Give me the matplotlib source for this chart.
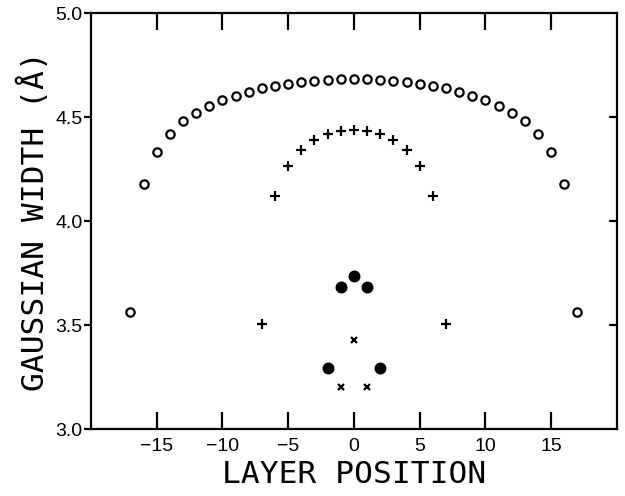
import matplotlib
matplotlib.use("Agg")
import matplotlib.pyplot as plt
import numpy as np

# open circles: layers -17..17
open_x = list(range(-17, 18))
open_half = [3.565, 4.178, 4.334, 4.422, 4.483, 4.523, 4.557, 4.584, 4.605,
             4.623, 4.640, 4.650, 4.660, 4.668, 4.674, 4.679, 4.683, 4.685]
open_y = open_half + open_half[-2::-1]

# plus signs: layers -7..7
plus_x = list(range(-7, 8))
plus_half = [3.505, 4.120, 4.268, 4.343, 4.393, 4.420, 4.435, 4.440]
plus_y = plus_half + plus_half[-2::-1]

# filled circles
fill_x = [-2, -1, 0, 1, 2]
fill_y = [3.295, 3.682, 3.737, 3.682, 3.295]

# crosses
cross_x = [-1, 0, 1]
cross_y = [3.204, 3.429, 3.204]

fig = plt.figure(figsize=(6.25, 4.96), dpi=100)
ax = fig.add_axes([0.1456, 0.1345, 0.8414, 0.8385])

ax.plot(open_x, open_y, 'o', ms=6.0, mfc='white', mec='black', mew=1.6, ls='none')
ax.plot(plus_x, plus_y, '+', ms=6.5, color='black', mew=1.6, ls='none')
ax.plot(fill_x, fill_y, 'o', ms=7.6, color='black', ls='none')
ax.plot(cross_x, cross_y, 'x', ms=4.5, color='black', mew=1.6, ls='none')

ax.set_xlim(-20, 20)
ax.set_ylim(3.0, 5.0)
ax.set_xticks([-15, -10, -5, 0, 5, 10, 15])
ax.set_yticks([3.0, 3.5, 4.0, 4.5, 5.0])
ax.set_yticklabels(['3.0', '3.5', '4.0', '4.5', '5.0'])

for s in ax.spines.values():
    s.set_linewidth(1.6)

ax.tick_params(axis='x', direction='in', top=True, length=6, width=1.6,
               labelsize=14, pad=6)
ax.tick_params(axis='y', which='both', left=True, right=False, direction='out',
               length=5, width=1.6, labelsize=14, pad=1)
# inward ticks on the right side
ax2 = ax.twinx()
ax2.set_ylim(3.0, 5.0)
ax2.set_yticks([3.5, 4.0, 4.5])
ax2.tick_params(axis='y', direction='in', length=6, width=1.6, labelright=False)
for s in ax2.spines.values():
    s.set_visible(False)

# longer tick at zero
for t in ax.xaxis.get_major_ticks():
    if abs(t.get_loc()) < 1e-9:
        t.tick1line.set_markersize(12)
        t.tick2line.set_markersize(12)

for lab in ax.get_xticklabels() + ax.get_yticklabels():
    lab.set_family('Liberation Sans')

ax.set_xlabel('LAYER POSITION', family='DejaVu Sans Mono', fontsize=22.5, labelpad=4)
ax.set_ylabel('GAUSSIAN WIDTH (Å)', family='DejaVu Sans Mono', fontsize=22.5, labelpad=4)

fig.savefig('out.png', dpi=100)
